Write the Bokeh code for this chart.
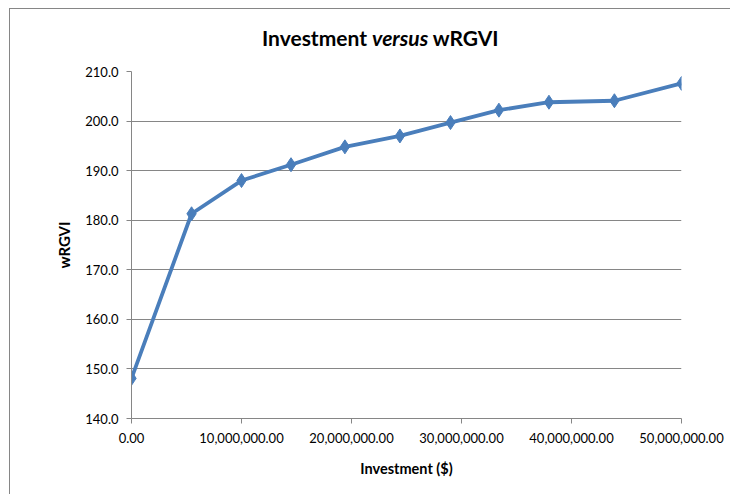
from bokeh.plotting import figure
from bokeh.models import Range1d, FixedTicker, NumeralTickFormatter, Div
from bokeh.layouts import column
from bokeh.embed import file_html
from bokeh.resources import INLINE

# Data
investment = [0, 5_460_000, 10_000_000, 14_500_000, 19_400_000, 24_400_000,
              29_000_000, 33_400_000, 37_950_000, 43_900_000, 50_000_000]
wrgvi = [148.1, 181.3, 188.0, 191.2, 194.8, 197.0, 199.7, 202.2, 203.8, 204.1, 207.6]
x_ticks = [0, 10_000_000, 20_000_000, 30_000_000, 40_000_000, 50_000_000]
y_ticks = [140, 150, 160, 170, 180, 190, 200, 210]

FONT = "Lato"
GRAY = "#868686"
BLUE = "#4A7EBB"

title = Div(text="Investment <i>versus</i> wRGVI", width=720, height=55, margin=0,
            styles={"font-family": FONT, "font-weight": "bold", "font-size": "21px",
                    "color": "black", "padding-left": "252px", "padding-top": "14px",
                    "box-sizing": "border-box", "white-space": "nowrap"})

p = figure(width=720, height=430, output_backend="svg", toolbar_location=None,
           x_range=Range1d(0, 50_000_000), y_range=Range1d(140, 210),
           min_border_left=121, min_border_right=49, min_border_top=7,
           min_border_bottom=76, margin=0)
p.outline_line_color = None
p.background_fill_color = "white"
p.border_fill_color = "white"

p.xgrid.visible = False
p.ygrid.ticker = FixedTicker(ticks=y_ticks)
p.ygrid.grid_line_color = GRAY
p.ygrid.grid_line_width = 1

for ax in (p.xaxis, p.yaxis):
    ax.axis_line_color = GRAY
    ax.major_tick_line_color = GRAY
    ax.minor_tick_line_color = None
    ax.major_tick_in = 0
    ax.major_tick_out = 5
    ax.major_label_text_font = FONT
    ax.major_label_text_font_size = "13px"
    ax.major_label_text_color = "black"
    ax.axis_label_text_font = FONT
    ax.axis_label_text_font_style = "bold"
    ax.axis_label_text_color = "black"

p.xaxis.ticker = FixedTicker(ticks=x_ticks)
p.xaxis.formatter = NumeralTickFormatter(format="0,0.00")
p.xaxis.major_label_standoff = 9
p.xaxis.axis_label = "Investment ($)"
p.xaxis.axis_label_text_font_size = "14.5px"
p.xaxis.axis_label_standoff = 14

p.yaxis.ticker = FixedTicker(ticks=y_ticks)
p.yaxis.formatter = NumeralTickFormatter(format="0.0")
p.yaxis.major_label_standoff = 8
p.yaxis.axis_label = "wRGVI"
p.yaxis.axis_label_text_font_size = "15px"
p.yaxis.axis_label_standoff = 9

p.line(investment, wrgvi, line_color=BLUE, line_width=3.8)
p.scatter(investment, wrgvi, marker="diamond", size=14, fill_color=BLUE, line_color=BLUE)

root = column(title, p, spacing=0,
              styles={"margin-left": "9px", "margin-top": "8px",
                      "border-left": "1px solid #868686", "border-top": "1px solid #868686"})

open("out.html", "w").write(file_html(root, INLINE))
